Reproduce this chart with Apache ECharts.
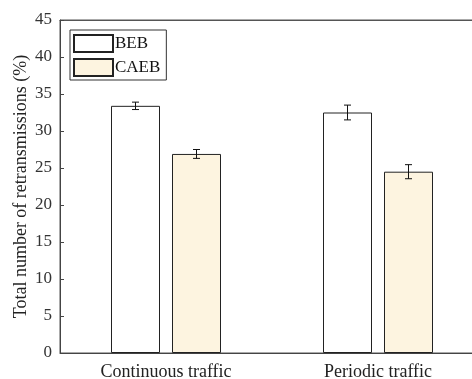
<!DOCTYPE html>
<html><head><meta charset="utf-8">
<script src="https://cdn.jsdelivr.net/npm/echarts@6/dist/echarts.min.js"></script>
<style>html,body{margin:0;padding:0;background:#fff}#c{width:472px;height:379px}</style>
</head><body><div id="c"></div>
<script>
const categories = ['Continuous traffic', 'Periodic traffic'];
const bebValues = [33.4, 32.5];
const bebErrors = [0.5, 1.0];
const caebValues = [26.9, 24.5];
const caebErrors = [0.6, 0.95];
const yTicks = [0, 45, 5];

const FONT = 'Liberation Serif';
const chart = echarts.init(document.getElementById('c'));
const BW = 49, GAP = 12;
const off = (BW + GAP) / 2;

function errSeries(vals, errs, dx) {
  return {
    type: 'custom',
    z: 10,
    silent: true,
    data: vals.map((v, i) => [i, v, errs[i]]),
    renderItem: function (params, api) {
      const c = api.value(0), v = api.value(1), e = api.value(2);
      const hi = api.coord([c, v + e]);
      const lo = api.coord([c, v - e]);
      const x = hi[0] + dx;
      const hw = 3.5;
      const st = { stroke: '#111', lineWidth: 1 };
      return { type: 'group', children: [
        { type: 'line', shape: { x1: x, y1: hi[1], x2: x, y2: lo[1] }, style: st },
        { type: 'line', shape: { x1: x - hw, y1: hi[1], x2: x + hw, y2: hi[1] }, style: st },
        { type: 'line', shape: { x1: x - hw, y1: lo[1], x2: x + hw, y2: lo[1] }, style: st }
      ]};
    }
  };
}

chart.setOption({
  animation: false,
  backgroundColor: '#fff',
  grid: { left: 60, top: 20, height: 333, width: 424, outerBoundsMode: 'none', containLabel: false,
          show: true, borderColor: '#555', borderWidth: 1 },
  legend: {
    left: 70, top: 30, orient: 'vertical', itemWidth: 39, itemHeight: 17, itemGap: 5,
    padding: [4, 6, 3, 3], borderColor: '#333', borderWidth: 1, backgroundColor: '#fff',
    textStyle: { fontFamily: FONT, fontSize: 17, lineHeight: 17, color: '#111', padding: [0, 0, 0, -3] },
    data: [{ name: 'BEB', icon: 'rect' }, { name: 'CAEB', icon: 'rect' }]
  },
  xAxis: [{
    type: 'category', data: categories,
    axisLine: { lineStyle: { color: '#444' } },
    axisTick: { inside: true, alignWithLabel: true, length: 4, lineStyle: { color: '#444' } },
    axisLabel: { fontFamily: FONT, fontSize: 18, color: '#222', margin: 10 }
  }, {
    type: 'category', data: categories, position: 'top',
    axisLine: { lineStyle: { color: '#555' } },
    axisTick: { inside: true, alignWithLabel: true, length: 4, lineStyle: { color: '#555' } },
    axisLabel: { show: false }
  }],
  yAxis: {
    type: 'value', min: yTicks[0], max: yTicks[1], interval: yTicks[2],
    name: 'Total number of retransmissions (%)', nameLocation: 'middle', nameGap: 30,
    nameMoveOverlap: false,
    nameTextStyle: { fontFamily: FONT, fontSize: 18, color: '#222' },
    axisLine: { show: true, lineStyle: { color: '#444' } },
    axisTick: { show: true, inside: true, length: 4, lineStyle: { color: '#444' } },
    splitLine: { show: false },
    axisLabel: { fontFamily: FONT, fontSize: 17, color: '#333', margin: 8 }
  },
  series: [
    { name: 'BEB', type: 'bar', data: bebValues, barWidth: BW, barGap: (GAP / BW * 100) + '%',
      itemStyle: { color: '#ffffff', borderColor: '#222', borderWidth: 1 } },
    { name: 'CAEB', type: 'bar', data: caebValues, barWidth: BW,
      itemStyle: { color: '#fdf4e0', borderColor: '#222', borderWidth: 1 } },
    errSeries(bebValues, bebErrors, -off),
    errSeries(caebValues, caebErrors, off)
  ]
});
</script></body></html>
